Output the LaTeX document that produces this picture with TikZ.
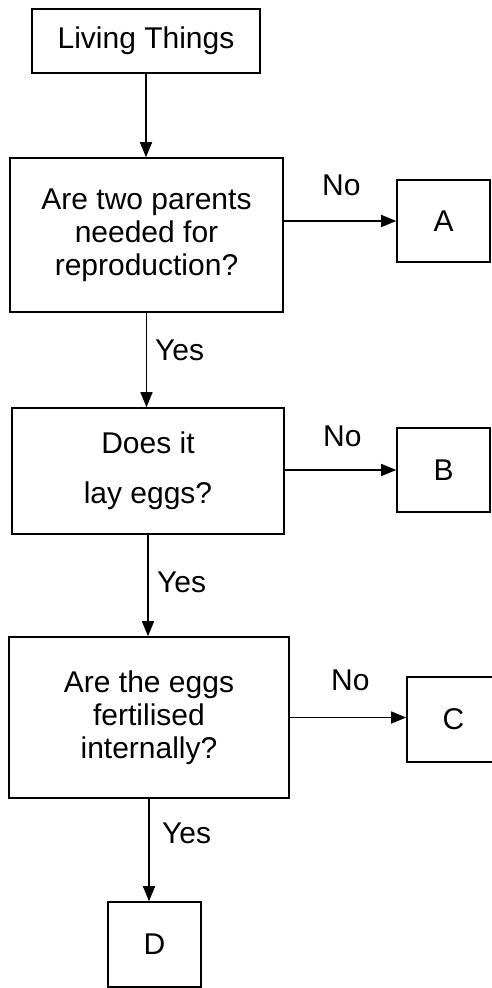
\documentclass[tikz,border=0pt]{standalone}
\usepackage{fontspec}
\setmainfont{Liberation Sans}
\usetikzlibrary{arrows.meta}

\begin{document}
\begin{tikzpicture}[x=1pt, y=-1pt,
    box/.style={rectangle, draw, line width=1.6pt, align=center, inner sep=0pt,
      font=\fontsize{30}{33}\selectfont},
    arr/.style={line width=1.4pt, -{Triangle[length=15pt, width=12pt]}},
    lbl/.style={inner sep=0pt, anchor=base west, font=\fontsize{30}{33}\selectfont}]
    \useasboundingbox (0, 0) rectangle (491, 988);

    \node[box, minimum width=228pt, minimum height=64pt] (living) at (146, 41) {Living Things};
    \node[box, minimum width=273pt, minimum height=154pt] (q1) at (146.5, 235) {Are two parents\\needed for\\reproduction?};
    \node[box, minimum width=93pt, minimum height=82pt] (A) at (443.5, 221) {A};
    \node[box, minimum width=272pt, minimum height=126pt] (q2) at (148, 471) {\rule{0pt}{12pt}Does it\\[17pt]lay eggs?};
    \node[box, minimum width=93pt, minimum height=84pt] (B) at (443.5, 470) {B};
    \node[box, minimum width=280pt, minimum height=161pt] (q3) at (149, 717.5) {Are the eggs\\fertilised\\internally?};
    \node[box, minimum width=93pt, minimum height=85pt] (C) at (453.5, 719.5) {C};
    \node[box, minimum width=93pt, minimum height=85pt] (D) at (154.5, 944.5) {D};

    % 矢印
    \draw[arr] (living.south) -- (living.south |- q1.north);
    \draw[arr] (A.west -| q1.east) -- (A.west);
    \draw[arr] (q1.south) -- (q1.south |- q2.north);
    \draw[arr] (B.west -| q2.east) -- (B.west);
    \draw[arr] (q2.south) -- (q2.south |- q3.north);
    \draw[arr] (q3.east) -- (q3.east -| C.west);
    \draw[arr] (q3.south) -- (q3.south |- D.north);

    % Yes / No
    \node[lbl] (no1) at (322, 195) {No};
    \node[lbl] (no2) at (323, 446) {No};
    \node[lbl] (no3) at (331, 690) {No};
    \node[lbl] (yes1) at (155, 360) {Yes};
    \node[lbl] (yes2) at (157, 592) {Yes};
    \node[lbl] (yes3) at (162, 843) {Yes};
\end{tikzpicture}
\end{document}
